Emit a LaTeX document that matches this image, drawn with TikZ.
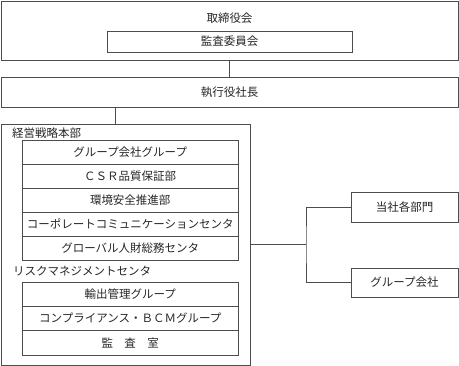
\documentclass[tikz,border=0pt]{standalone}
\usepackage{fontspec}
\setmainfont{Noto Sans CJK JP}
\begin{document}
\begin{tikzpicture}[x=1pt,y=-1pt,
    every node/.style={font=\fontsize{11.5}{13}\selectfont, text=black!85},
    box/.style={draw=black!70, line width=0.8pt, inner sep=0pt},
    link/.style={draw=black!70, line width=0.8pt}]
  \useasboundingbox (0,0) rectangle (459,366);
  % board and audit committee
  \node[box, minimum width=457pt, minimum height=59pt] (board) at (229.5,30.5) {};
  \node (boardlbl) at (229.5,18) {取締役会};
  \node[box, minimum width=245pt, minimum height=21pt] (audit) at (229.5,41.5) {監査委員会};
  % president
  \node[box, minimum width=457pt, minimum height=30pt] (ceo) at (229.5,92) {執行役社長};
  \draw[link] (board.south) -- (ceo.north);
  % strategy headquarters
  \node[box, minimum width=249.5pt, minimum height=241pt] (hq) at (125.75,244.5) {};
  \coordinate (drop) at (115,0);
  \draw[link] (ceo.south -| drop) -- (hq.north -| drop);
  \node[anchor=west] (hqlbl) at (8.5,133) {経営戦略本部};
  \node[box, minimum width=216.5pt, minimum height=24pt] (grpco) at (130.25,152) {グループ会社グループ};
  \node[box, minimum width=216.5pt, minimum height=24pt] (csr) at (130.25,176) {ＣＳＲ品質保証部};
  \node[box, minimum width=216.5pt, minimum height=24pt] (env) at (130.25,200) {環境安全推進部};
  \node[box, minimum width=216.5pt, minimum height=24pt] (comm) at (130.25,224) {コーポレートコミュニケーションセンタ};
  \node[box, minimum width=216.5pt, minimum height=24pt] (hr) at (130.25,248) {グローバル人財総務センタ};
  % risk management center
  \node[anchor=west] (risklbl) at (9.5,271) {リスクマネジメントセンタ};
  \node[box, minimum width=216.5pt, minimum height=24.3pt] (export) at (130.25,294.2) {輸出管理グループ};
  \node[box, minimum width=216.5pt, minimum height=24.3pt] (bcm) at (130.25,318.5) {コンプライアンス・ＢＣＭグループ};
  \node[box, minimum width=216.5pt, minimum height=24.3pt] (auditoff) at (130.25,342.8) {監　査　室};
  % divisions and group companies
  \node[box, minimum width=107pt, minimum height=30pt] (dept) at (404.5,207) {当社各部門};
  \node[box, minimum width=107pt, minimum height=29pt] (grp) at (404.5,282.5) {グループ会社};
  \coordinate (fork) at (306,244.5);
  \draw[link] (hq.east) -- (fork);
  \draw[link] (dept.west) -| (fork) |- (grp.west);
\end{tikzpicture}
\end{document}
